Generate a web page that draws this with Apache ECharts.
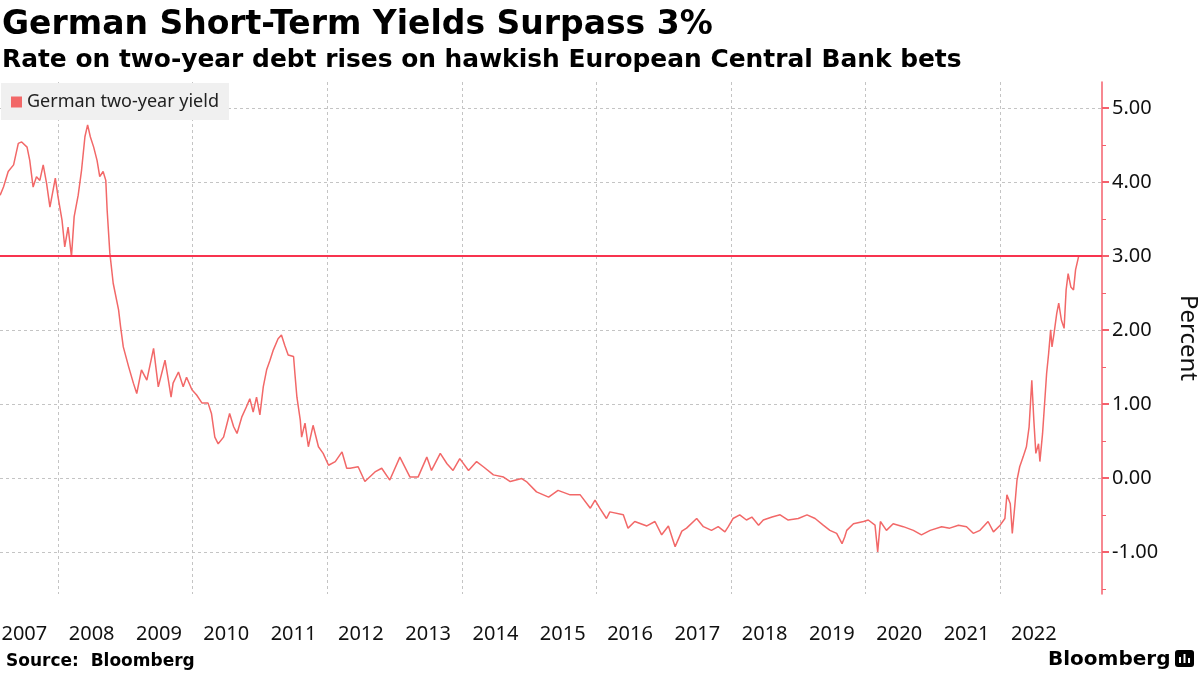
<!DOCTYPE html>
<html>
<head>
<meta charset="utf-8">
<title>German Short-Term Yields Surpass 3%</title>
<script src="https://cdn.jsdelivr.net/npm/echarts@6/dist/echarts.min.js"></script>
<style>
  * { margin: 0; padding: 0; }
  body { background: #fff; }
  #chart { width: 1200px; height: 675px; }
</style>
</head>
<body>
<div id="chart"></div>
<script>
// time as decimal years
var years = [
  2007.14, 2007.19, 2007.26, 2007.34, 2007.41, 2007.46, 2007.54, 2007.58, 2007.63, 2007.68,
  2007.73, 2007.78, 2007.83, 2007.88, 2007.96, 2008.00, 2008.06, 2008.10, 2008.15, 2008.20,
  2008.24, 2008.30, 2008.35, 2008.40, 2008.44, 2008.48, 2008.53, 2008.58, 2008.62, 2008.67,
  2008.71, 2008.73, 2008.77, 2008.82, 2008.90, 2008.93, 2008.97, 2009.05, 2009.12, 2009.17,
  2009.24, 2009.32, 2009.42, 2009.49, 2009.59, 2009.64, 2009.68, 2009.71, 2009.79, 2009.86,
  2009.91, 2009.99, 2010.06, 2010.14, 2010.23, 2010.28, 2010.33, 2010.38, 2010.46, 2010.55,
  2010.61, 2010.66, 2010.73, 2010.80, 2010.85, 2010.90, 2010.95, 2011.00, 2011.05, 2011.10,
  2011.15, 2011.20, 2011.27, 2011.32, 2011.37, 2011.42, 2011.50, 2011.52, 2011.55, 2011.60,
  2011.62, 2011.67, 2011.72, 2011.79, 2011.87, 2011.94, 2012.02, 2012.12, 2012.22, 2012.29,
  2012.34, 2012.46, 2012.56, 2012.71, 2012.81, 2012.93, 2013.08, 2013.23, 2013.35, 2013.48,
  2013.55, 2013.68, 2013.78, 2013.87, 2013.97, 2014.10, 2014.22, 2014.32, 2014.47, 2014.62,
  2014.72, 2014.89, 2014.96, 2015.11, 2015.29, 2015.43, 2015.61, 2015.76, 2015.91, 2015.98,
  2016.05, 2016.15, 2016.20, 2016.40, 2016.47, 2016.57, 2016.75, 2016.87, 2016.97, 2017.07,
  2017.17, 2017.27, 2017.34, 2017.49, 2017.59, 2017.71, 2017.81, 2017.91, 2017.96, 2018.03,
  2018.13, 2018.23, 2018.31, 2018.41, 2018.48, 2018.61, 2018.73, 2018.85, 2019.00, 2019.13,
  2019.25, 2019.37, 2019.47, 2019.57, 2019.65, 2019.69, 2019.72, 2019.82, 2019.97, 2020.04,
  2020.14, 2020.18, 2020.22, 2020.31, 2020.41, 2020.56, 2020.71, 2020.83, 2020.96, 2021.13,
  2021.25, 2021.38, 2021.50, 2021.60, 2021.70, 2021.82, 2021.90, 2022.00, 2022.07, 2022.10,
  2022.15, 2022.18, 2022.22, 2022.25, 2022.29, 2022.34, 2022.39, 2022.43, 2022.47, 2022.50,
  2022.53, 2022.57, 2022.59, 2022.63, 2022.67, 2022.69, 2022.72, 2022.75, 2022.77, 2022.80,
  2022.84, 2022.87, 2022.91, 2022.95, 2022.98, 2023.01, 2023.05, 2023.09, 2023.12, 2023.17
];
var yields = [
  3.82, 3.93, 4.14, 4.23, 4.52, 4.54, 4.47, 4.29, 3.93, 4.07,
  4.02, 4.23, 3.98, 3.66, 4.05, 3.80, 3.48, 3.12, 3.39, 2.99,
  3.53, 3.82, 4.16, 4.61, 4.77, 4.61, 4.47, 4.29, 4.07, 4.14,
  4.02, 3.62, 3.04, 2.63, 2.27, 2.04, 1.77, 1.50, 1.28, 1.14,
  1.46, 1.32, 1.75, 1.23, 1.59, 1.32, 1.09, 1.28, 1.43, 1.23,
  1.36, 1.19, 1.12, 1.01, 1.01, 0.87, 0.55, 0.46, 0.55, 0.87,
  0.69, 0.60, 0.82, 0.96, 1.07, 0.89, 1.09, 0.85, 1.23, 1.46,
  1.59, 1.73, 1.88, 1.93, 1.79, 1.66, 1.64, 1.41, 1.09, 0.78,
  0.55, 0.74, 0.42, 0.71, 0.42, 0.33, 0.17, 0.22, 0.35, 0.13,
  0.13, 0.15, -0.05, 0.08, 0.13, -0.03, 0.28, 0.01, 0.01, 0.28,
  0.10, 0.33, 0.19, 0.10, 0.26, 0.10, 0.22, 0.15, 0.04, 0.01,
  -0.05, -0.01, -0.05, -0.19, -0.26, -0.17, -0.23, -0.23, -0.41, -0.30,
  -0.41, -0.55, -0.46, -0.50, -0.68, -0.59, -0.65, -0.59, -0.77, -0.65,
  -0.93, -0.72, -0.68, -0.55, -0.66, -0.71, -0.66, -0.73, -0.66, -0.55,
  -0.50, -0.57, -0.53, -0.64, -0.57, -0.53, -0.50, -0.57, -0.55, -0.50,
  -0.55, -0.64, -0.71, -0.75, -0.89, -0.80, -0.71, -0.62, -0.59, -0.57,
  -0.64, -1.00, -0.59, -0.71, -0.62, -0.66, -0.71, -0.77, -0.71, -0.66,
  -0.68, -0.64, -0.66, -0.75, -0.71, -0.59, -0.73, -0.64, -0.55, -0.23,
  -0.35, -0.75, -0.35, -0.03, 0.15, 0.28, 0.42, 0.69, 1.32, 0.78,
  0.33, 0.46, 0.22, 0.60, 1.14, 1.41, 1.68, 2.00, 1.77, 1.95,
  2.22, 2.36, 2.13, 2.02, 2.54, 2.76, 2.58, 2.54, 2.81, 3.01
];

// axis labels sit mid-year, dashed grid lines every other year start
var labelYears = [2007, 2008, 2009, 2010, 2011, 2012, 2013, 2014, 2015, 2016, 2017, 2018, 2019, 2020, 2021, 2022];
var gridYears = [2008, 2010, 2012, 2014, 2016, 2018, 2020, 2022];
var yTicks = [-1, 0, 1, 2, 3, 4, 5];
var yHalfTicks = [-1.5, -0.5, 0.5, 1.5, 2.5, 3.5, 4.5];
var threshold = 3;

var lineColor = '#f26868';
var axisRed = '#f4606c';

var chart = echarts.init(document.getElementById('chart'));
var points = years.map(function (t, i) { return [t, yields[i]]; });

chart.setOption({
  animation: false,
  title: [
    {
      text: 'German Short-Term Yields Surpass 3%',
      left: 2, top: 9, padding: 0,
      textStyle: { fontFamily: 'DejaVu Sans', fontWeight: 'bold', fontSize: 33, color: '#000' }
    },
    {
      text: 'Rate on two-year debt rises on hawkish European Central Bank bets',
      left: 2, top: 48, padding: 0,
      textStyle: { fontFamily: 'DejaVu Sans', fontWeight: 'bold', fontSize: 24.9, color: '#000' }
    },
    {
      text: 'Source:  Bloomberg',
      left: 6, top: 653, padding: 0,
      textStyle: { fontFamily: 'DejaVu Sans', fontWeight: 'bold', fontSize: 17, color: '#000' }
    }
  ],
  legend: {
    data: ['German two-year yield'],
    left: 1, top: 83,
    padding: [10, 10, 9, 10],
    icon: 'rect',
    itemWidth: 11, itemHeight: 11,
    backgroundColor: '#f0f0f0',
    textStyle: { fontFamily: 'Noto Sans', fontSize: 18, color: '#222' }
  },
  grid: { left: 0, right: 98, top: 82, bottom: 81, outerBoundsMode: 'none' },
  xAxis: {
    type: 'value',
    min: 2007.138,
    max: 2023.513,
    axisLine: { show: false },
    axisTick: { show: false, customValues: gridYears },
    axisLabel: {
      customValues: labelYears.map(function (y) { return y + 0.5; }),
      formatter: function (v) { return String(Math.floor(v)); },
      margin: 30,
      fontFamily: 'Noto Sans', fontSize: 20, color: '#111'
    },
    splitLine: { show: true, lineStyle: { type: [3, 3], color: '#c4c4c4', width: 1 } }
  },
  yAxis: [
    {
      type: 'value',
      position: 'right',
      min: -1.57,
      max: 5.35,
      name: 'Percent',
      nameLocation: 'middle',
      nameRotate: -90,
      nameGap: 74,
      nameTextStyle: { fontFamily: 'Noto Sans', fontSize: 24, color: '#111' },
      axisLine: { show: true, lineStyle: { color: axisRed, width: 1.5 } },
      axisTick: { show: true, customValues: yTicks, length: 7, lineStyle: { color: axisRed, width: 2 } },
      axisLabel: {
        customValues: yTicks,
        formatter: function (v) { return v.toFixed(2); },
        margin: 10,
        fontFamily: 'Noto Sans', fontSize: 20, color: '#111'
      },
      splitLine: { show: true, lineStyle: { type: [3, 3], color: '#c4c4c4', width: 1 } }
    },
    {
      // minor half-point ticks only
      type: 'value',
      position: 'right',
      min: -1.57,
      max: 5.35,
      axisLine: { show: false },
      axisTick: { show: true, customValues: yHalfTicks, length: 4, lineStyle: { color: axisRed, width: 1 } },
      axisLabel: { show: false },
      splitLine: { show: false }
    }
  ],
  series: [
    {
      name: 'German two-year yield',
      type: 'line',
      data: points,
      yAxisIndex: 0,
      showSymbol: false,
      color: lineColor,
      lineStyle: { color: lineColor, width: 1.5 },
      markLine: {
        silent: true,
        symbol: 'none',
        label: { show: false },
        lineStyle: { color: '#f8344f', width: 2, type: 'solid' },
        data: [{ yAxis: threshold }]
      }
    }
  ],
  graphic: [
    {
      type: 'text', left: 1048, top: 650,
      style: { text: 'Bloomberg', fontFamily: 'DejaVu Sans', fontWeight: 'bold', fontSize: 20, fill: '#000' }
    },
    {
      type: 'group', left: 1175, top: 650,
      children: [
        { type: 'rect', shape: { x: 0, y: 0, width: 19, height: 17, r: 3 }, style: { fill: '#000' } },
        { type: 'rect', shape: { x: 4, y: 7, width: 2, height: 6 }, style: { fill: '#fff' } },
        { type: 'rect', shape: { x: 8.5, y: 4, width: 2, height: 9 }, style: { fill: '#fff' } },
        { type: 'rect', shape: { x: 13, y: 8, width: 2, height: 5 }, style: { fill: '#fff' } }
      ]
    }
  ]
});
</script>
</body>
</html>
